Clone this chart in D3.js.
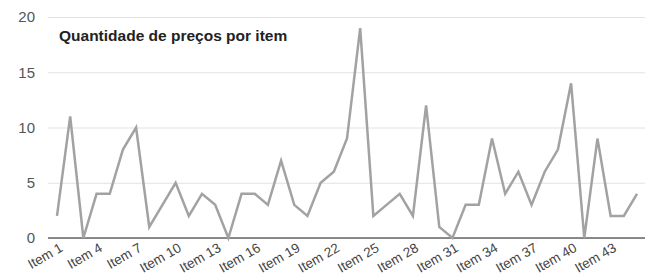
<!DOCTYPE html>
<html><head><meta charset="utf-8">
<script src="https://cdn.jsdelivr.net/npm/d3@7"></script>
<style>body{margin:0;background:#fff}svg{display:block}</style>
</head><body><svg id="c" width="652" height="280"></svg>
<script>
const categories = d3.range(1, 46).map(i => "Item " + i);
const values = [2,11,0,4,4,8,10,1,3,5,2,4,3,0,4,4,3,7,3,2,5,6,9,19,2,3,4,2,12,1,0,3,3,9,4,6,3,6,8,14,0,9,2,2,4];
const yTicks = [0,5,10,15,20];
const tickLabels = categories.filter((d,i) => i % 3 === 0);
const title = "Quantidade de preços por item";

const svg = d3.select("#c");
const x = d3.scalePoint().domain(categories).range([57, 637]);
const y = d3.scaleLinear().domain([0,20]).range([238, 17]);

const yAxis = d3.axisLeft(y).tickValues(yTicks).tickSize(-597).tickPadding(13);
const gy = svg.append("g").attr("transform","translate(48,0)").call(yAxis);
gy.select(".domain").remove();
gy.selectAll(".tick line").attr("stroke","#e2e2e2").attr("stroke-width",1);
gy.selectAll(".tick text").attr("fill","#555").attr("font-size",15).attr("font-family","Liberation Sans, Arial, sans-serif");

svg.append("line").attr("x1",48).attr("x2",645).attr("y1",y(0)).attr("y2",y(0))
  .attr("stroke","#666").attr("stroke-width",1.5);

svg.append("path").datum(values)
  .attr("fill","none").attr("stroke","#a2a2a2").attr("stroke-width",2.5)
  .attr("d", d3.line().x((d,i)=>x(categories[i])).y(d=>y(d)));

svg.append("g").selectAll("text").data(tickLabels).join("text")
  .attr("transform", d => `translate(${x(d)+3},244) rotate(-30)`)
  .attr("text-anchor","end").attr("dy","0.55em")
  .attr("font-size",13.5).attr("fill","#444").attr("font-family","Liberation Sans, Arial, sans-serif")
  .text(d => d);

svg.append("text").attr("x",59).attr("y",41).attr("font-size",15.5).attr("font-weight","bold")
  .attr("fill","#222").attr("font-family","Liberation Sans, Arial, sans-serif").text(title);
</script></body></html>
